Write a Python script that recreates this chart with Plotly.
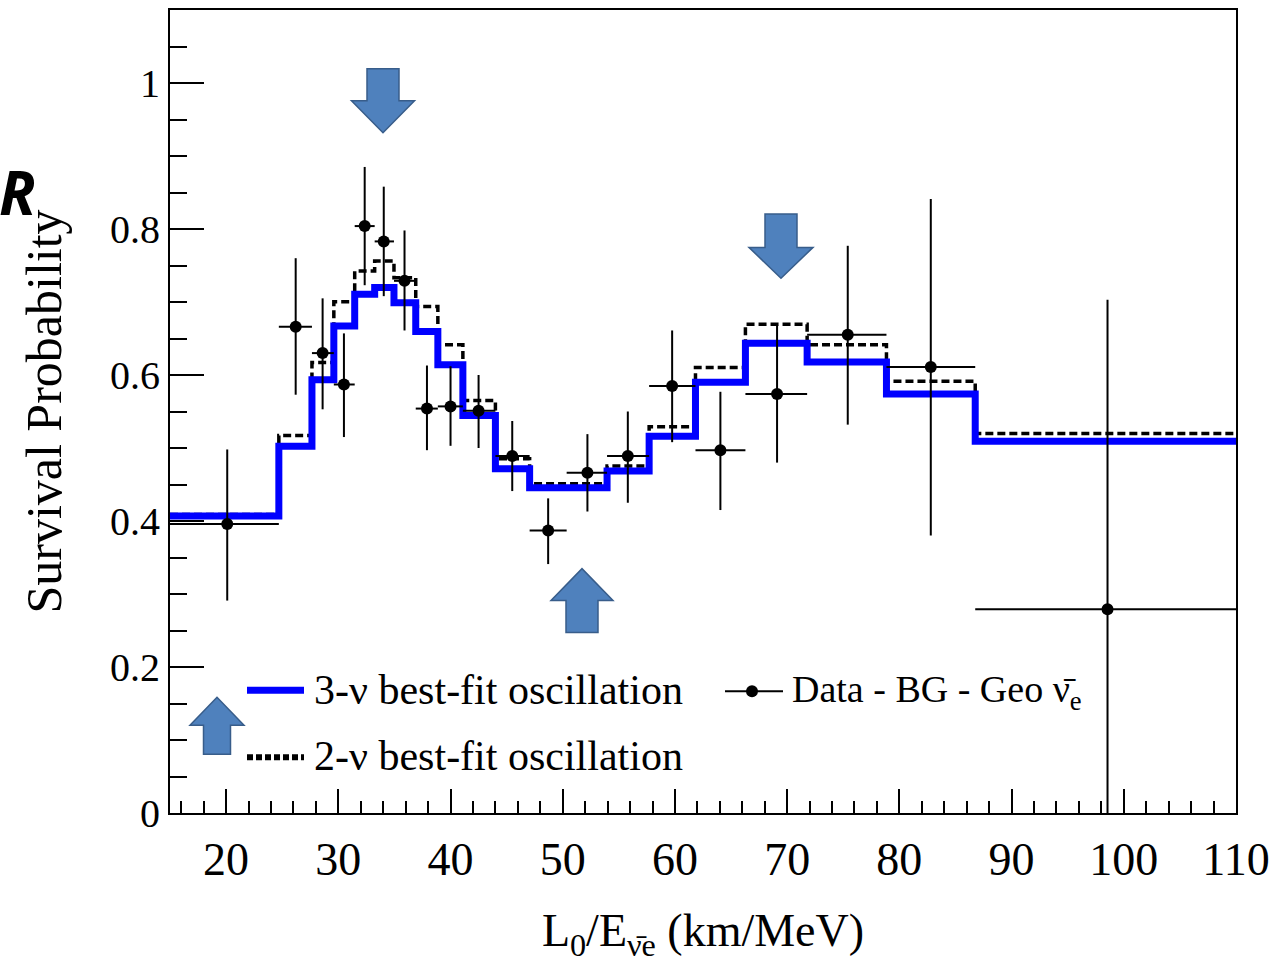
import plotly.graph_objects as go

# ---------------- data ----------------
bin_edges = [15, 24.7, 27.65, 29.6, 31.46, 33.24, 34.96, 36.9, 38.87, 41.1, 44.0,
             47.05, 50.35, 53.95, 57.7, 61.83, 66.28, 71.78, 78.85, 86.76, 110]
three_nu = [0.407, 0.5025, 0.5936, 0.667, 0.7105, 0.720, 0.699, 0.6596, 0.614, 0.5444,
            0.4716, 0.4456, 0.4456, 0.4684, 0.516, 0.590, 0.6436, 0.6177, 0.574, 0.5094]
two_nu = [0.409, 0.517, 0.617, 0.7005, 0.7424, 0.756, 0.7333, 0.6937, 0.6414, 0.565,
          0.4852, 0.451, 0.451, 0.4752, 0.529, 0.6104, 0.6695, 0.6414, 0.5913, 0.5199]
data_x = [20.1, 26.2, 28.6, 30.5, 32.35, 34.05, 35.9, 37.9, 40.0, 42.5,
          45.5, 48.7, 52.2, 55.8, 59.75, 64.05, 69.1, 75.4, 82.8, 98.55]
data_y = [0.396, 0.666, 0.630, 0.587, 0.804, 0.783, 0.729, 0.554, 0.557, 0.551,
          0.489, 0.387, 0.466, 0.489, 0.585, 0.497, 0.574, 0.655, 0.611, 0.279]
data_y_upper = [0.498, 0.760, 0.705, 0.657, 0.885, 0.858, 0.798, 0.613, 0.612, 0.600,
                0.537, 0.431, 0.519, 0.550, 0.661, 0.577, 0.668, 0.777, 0.841, 0.703]
data_y_lower = [0.291, 0.573, 0.553, 0.515, 0.723, 0.708, 0.661, 0.497, 0.503, 0.500,
                0.441, 0.341, 0.413, 0.425, 0.508, 0.415, 0.480, 0.532, 0.380, -0.15]

x_tick_vals = [20, 30, 40, 50, 60, 70, 80, 90, 100, 110]
y_tick_vals = [0, 0.2, 0.4, 0.6, 0.8, 1]
y_tick_text = ["0", "0.2", "0.4", "0.6", "0.8", "1"]

label_3nu = "3-ν best-fit oscillation"
label_2nu = "2-ν best-fit oscillation"
label_data = "Data - BG - Geo ν\u0304<sub>e</sub>"
x_title = "L<sub>0</sub>/E<sub>ν\u0304e</sub> (km/MeV)"
y_title = "Survival Probability"

# ---------------- layout geometry ----------------
W, H = 1279, 970
ML, MR, MT, MB = 170, 43, 8, 157
PW, PH = W - ML - MR, H - MT - MB
SERIF = "Liberation Serif"


def px(xp, yp):
    """page pixel -> paper fraction"""
    return (xp - ML) / PW, (H - MB - yp) / PH


fig = go.Figure()

# step histograms (last value repeated so the final bin is closed at the right edge)
fig.add_trace(go.Scatter(
    x=bin_edges, y=two_nu + [two_nu[-1]], mode="lines", line_shape="hv",
    line=dict(color="black", width=3.5, dash="8px,4px"), name=label_2nu,
    showlegend=False))
fig.add_trace(go.Scatter(
    x=bin_edges, y=three_nu + [three_nu[-1]], mode="lines", line_shape="hv",
    line=dict(color="#0000ff", width=7), name=label_3nu, showlegend=False))

# data points with asymmetric errors; horizontal errors span the bins
fig.add_trace(go.Scatter(
    x=data_x, y=data_y, mode="markers",
    marker=dict(color="black", size=12),
    error_y=dict(type="data", symmetric=False,
                 array=[u - y for u, y in zip(data_y_upper, data_y)],
                 arrayminus=[y - l for y, l in zip(data_y, data_y_lower)],
                 color="black", thickness=2, width=0),
    error_x=dict(type="data", symmetric=False,
                 array=[bin_edges[i + 1] - x for i, x in enumerate(data_x)],
                 arrayminus=[x - bin_edges[i] for i, x in enumerate(data_x)],
                 color="black", thickness=2, width=0),
    name="Data", showlegend=False))

shapes = []
annotations = []

# ---------------- block arrows ----------------
ARROW_FILL = "#4f81bd"
ARROW_LINE = "#385d8a"


def arrow(tipx, tipy, hw, sw, hh, th, down=True):
    s = 1 if down else -1
    pts = [(tipx - sw, tipy - s * th), (tipx + sw, tipy - s * th), (tipx + sw, tipy - s * hh),
           (tipx + hw, tipy - s * hh), (tipx, tipy), (tipx - hw, tipy - s * hh),
           (tipx - sw, tipy - s * hh)]
    pp = [px(a, b) for a, b in pts]
    path = "M " + " L ".join(f"{a:.5f},{b:.5f}" for a, b in pp) + " Z"
    return dict(type="path", xref="paper", yref="paper", path=path,
                fillcolor=ARROW_FILL, line=dict(color=ARROW_LINE, width=1.5), layer="above")


shapes.append(arrow(383, 131, 31.5, 16, 32, 64, down=True))
shapes.append(arrow(781, 277, 32, 16, 31, 64.5, down=True))
shapes.append(arrow(582, 568, 31, 16, 32, 64, down=False))
shapes.append(arrow(217, 697, 27, 13.5, 28, 57, down=False))

# ---------------- legend (drawn manually) ----------------
LEG_FONT = dict(family=SERIF, size=42, color="black")


def hline(x0, x1, y, **line):
    a0, b0 = px(x0, y)
    a1, _ = px(x1, y)
    return dict(type="line", xref="paper", yref="paper", x0=a0, x1=a1, y0=b0, y1=b0,
                line=line, layer="above")


shapes.append(hline(247, 304, 690, color="#0000ff", width=7))
shapes.append(hline(247, 304, 757, color="black", width=6, dash="6px,3px"))
shapes.append(hline(725, 783, 691, color="black", width=2))
cx0, cy0 = px(746, 685)
cx1, cy1 = px(758, 697)
shapes.append(dict(type="circle", xref="paper", yref="paper", x0=cx0, x1=cx1, y0=cy0, y1=cy1,
                   fillcolor="black", line=dict(color="black", width=0), layer="above"))

for text, xp, yp, fs in [(label_3nu, 312, 690, 42), (label_2nu, 312, 756, 42),
                         (label_data, 790, 692, 38)]:
    ax, ay = px(xp, yp)
    annotations.append(dict(text=text, x=ax, y=ay, xref="paper", yref="paper",
                            xanchor="left", yanchor="middle", showarrow=False,
                            font=dict(family=SERIF, size=fs, color="black")))

# the stray "R" at top-left of the slide crop
rx, ry = px(17, 190)
annotations.append(dict(text="<b><i>R</i></b>", x=rx, y=ry, xref="paper", yref="paper",
                        xanchor="center", yanchor="middle", showarrow=False,
                        font=dict(family="Open Sans", size=60, color="black")))

fig.update_layout(
    width=W, height=H, autosize=False,
    margin=dict(l=ML, r=MR, t=MT, b=MB, pad=0),
    paper_bgcolor="white", plot_bgcolor="white",
    showlegend=False,
    shapes=shapes, annotations=annotations,
    font=dict(family=SERIF, color="black"),
)

fig.update_xaxes(
    range=[15, 110], tickvals=x_tick_vals, ticks="inside", ticklen=24, tickwidth=2,
    tickcolor="black", showline=True, linecolor="black", linewidth=2, mirror=True,
    showgrid=False, zeroline=False,
    tickfont=dict(family=SERIF, size=46, color="black"), ticklabelstandoff=5,
    minor=dict(dtick=2, tick0=0, ticks="inside", ticklen=12, tickwidth=2, tickcolor="black",
               showgrid=False),
    title=dict(text=x_title, font=dict(family=SERIF, size=46, color="black"), standoff=30),
)
fig.update_yaxes(
    range=[0, 1.1], tickvals=y_tick_vals, ticktext=y_tick_text,
    ticks="inside", ticklen=34, tickwidth=2, tickcolor="black",
    showline=True, linecolor="black", linewidth=2, mirror=True,
    showgrid=False, zeroline=False,
    tickfont=dict(family=SERIF, size=40, color="black"), ticklabelstandoff=0,
    minor=dict(dtick=0.05, tick0=0, ticks="inside", ticklen=17, tickwidth=2, tickcolor="black",
               showgrid=False),
    title=dict(text=y_title, font=dict(family=SERIF, size=50, color="black"), standoff=33),
)

fig.write_html("out.html")
